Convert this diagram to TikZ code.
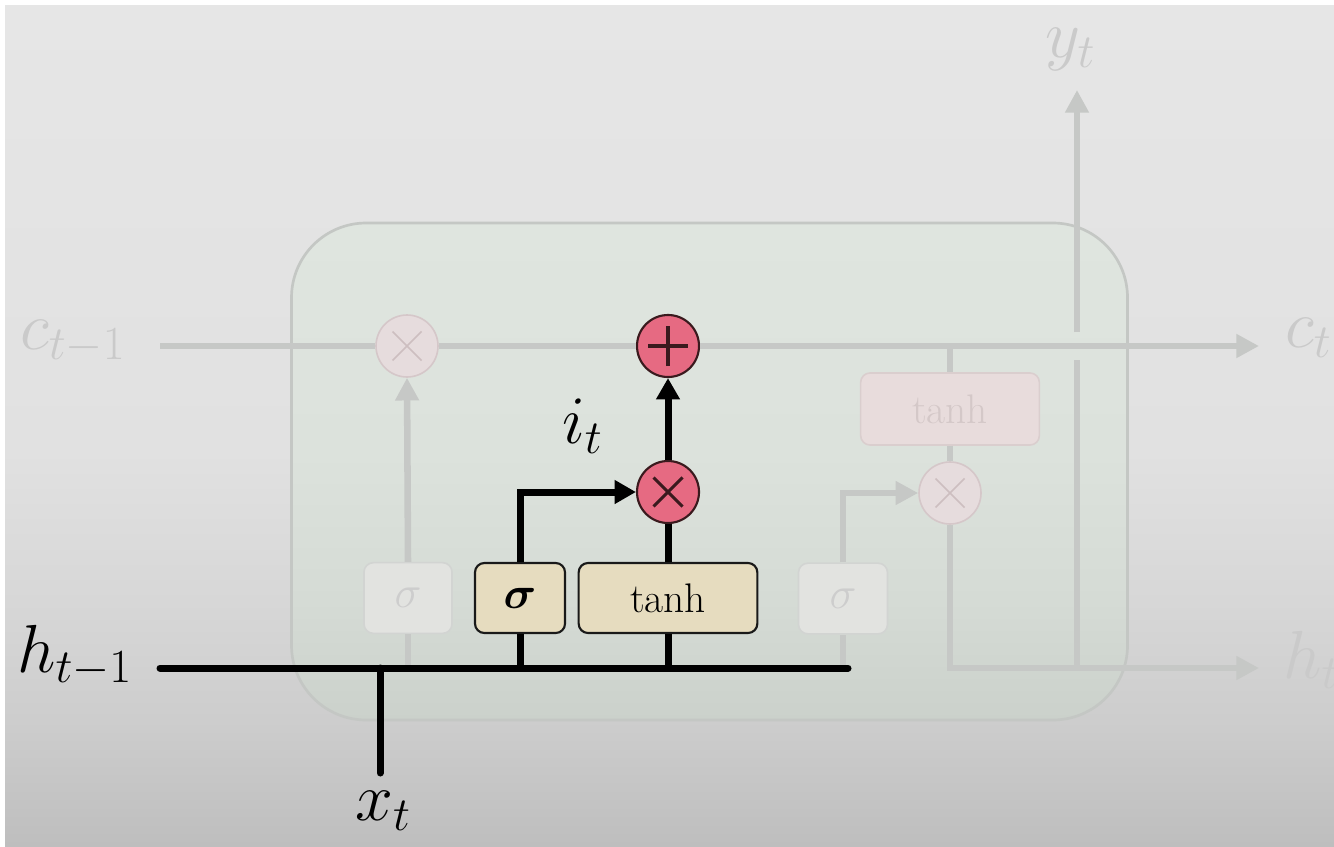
\RequirePackage{fix-cm}
\documentclass[tikz,border=0pt]{standalone}
\usepackage{amsmath}
\usepackage{bm}
\usetikzlibrary{arrows.meta}

\definecolor{bgA}{HTML}{BEBEBE}
\definecolor{bgB}{HTML}{CDCDCD}
\definecolor{bgC}{HTML}{D7D7D7}
\definecolor{bgD}{HTML}{E1E1E1}
\definecolor{bgE}{HTML}{E6E6E6}
\definecolor{cellA}{HTML}{CBD1CB}
\definecolor{cellB}{HTML}{D5DBD5}
\definecolor{cellC}{HTML}{DCE2DC}
\definecolor{cellD}{HTML}{DFE5DF}
\definecolor{cellline}{HTML}{C4C7C4}
\definecolor{fadeline}{HTML}{C6C8C6}
\definecolor{fadetext}{HTML}{CACACA}
\definecolor{pinkA}{HTML}{E66A82}
\definecolor{pinkB}{HTML}{3A1A1E}
\definecolor{fcirc}{HTML}{E6DCDD}
\definecolor{fcircb}{HTML}{D5C7C9}
\definecolor{fcross}{HTML}{CDBEC0}
\definecolor{beige}{HTML}{E6DCBF}
\definecolor{fgate}{HTML}{E2E3E0}
\definecolor{fgateb}{HTML}{D2D4D2}
\definecolor{fgatetext}{HTML}{CDCDCD}
\definecolor{ftanh}{HTML}{E8DCDC}
\definecolor{ftanhb}{HTML}{DACECE}
\definecolor{ftanhtext}{HTML}{D4C8C8}

\pgfdeclareverticalshading{bgshade}{100bp}{color(0bp)=(bgA); color(25bp)=(bgA); color(32.5bp)=(bgB); color(39.5bp)=(bgC); color(48.5bp)=(bgD); color(75bp)=(bgE); color(100bp)=(bgE)}
\pgfdeclareverticalshading{cellshade}{100bp}{color(0bp)=(cellA); color(25bp)=(cellA); color(37bp)=(cellB); color(52bp)=(cellC); color(75bp)=(cellD); color(100bp)=(cellD)}

\begin{document}
\begin{tikzpicture}[x=0.75pt,y=-0.75pt,
  fl/.style={draw=fadeline, line width=4.9pt},
  bl/.style={draw=black, line width=5.25pt},
  btip/.style={-{Triangle[length=16pt,width=17pt]}},
  ftip/.style={-{Triangle[length=17pt,width=17pt]}},
  opA/.style={circle, minimum size=46.5pt, inner sep=0pt, fill=pinkA, draw=pinkB, line width=1.6pt},
  opF/.style={circle, minimum size=46.5pt, inner sep=0pt, fill=fcirc, draw=fcircb, line width=1.2pt},
  gatefont/.style={font=\fontsize{31}{36}\selectfont},
  gateA/.style={rectangle, rounded corners=7pt, fill=beige, draw=black!90, line width=1.6pt, minimum height=52.5pt, inner sep=0pt, gatefont},
  gateF/.style={rectangle, rounded corners=7pt, fill=fgate, draw=fgateb, line width=1.2pt, minimum height=53pt, inner sep=0pt, text=fgatetext, gatefont},
  gateT/.style={rectangle, rounded corners=7pt, fill=ftanh, draw=ftanhb, line width=1.2pt, minimum height=54pt, inner sep=0pt, text=ftanhtext, gatefont},
  sig/.style={font=\fontsize{34}{40}\selectfont},
  lab/.style={inner sep=0pt, font=\fontsize{51}{60}\selectfont},
  flab/.style={lab, text=fadetext}
]
\useasboundingbox (0,0) rectangle (1334,846);
\fill[white] (0,0) rectangle (1334,846);
\shade[shading=bgshade] (5,5) rectangle (1334,846);

% cell
\node[shading=cellshade, draw=cellline, line width=2pt, rounded corners=56pt,
      minimum width=627pt, minimum height=372.75pt] (cell) at (709.5,471.5) {};

% coordinates
\coordinate (cin) at (160,346);
\coordinate (cout) at (1259,346);
\coordinate (hin) at (160,668);
\coordinate (hend) at (848,668);
\coordinate (hout) at (1259,668);
\coordinate (xbot) at (380,773);
\coordinate (ybot) at (1077,668);
\coordinate (ygapl) at (1077,360);
\coordinate (ygaph) at (1077,332);
\coordinate (ytop) at (1077,90);

% operators
\node[opF] (fxL) at (407,346) {};
\node[opA] (plus) at (668,346) {};
\node[opA] (ax) at (668,492) {};
\node[opF] (fxR) at (950,493) {};

% gates
\node[gateF, sig, minimum width=66pt] (sigL) at (408,598) {$\sigma$};
\node[gateA, sig, minimum width=67.5pt] (sigA) at (520,598) {$\bm{\sigma}$};
\node[gateA, minimum width=134pt] (tanhA) at (668,598) {tanh};
\node[gateF, sig, minimum width=66.75pt] (sigR) at (843,598.5) {$\sigma$};
\node[gateT, minimum width=134pt] (tanhR) at (950,409) {tanh};

% faded connectors
\draw[fl] (cin) -- (fxL.west);
\draw[fl] (fxL.east) -- (plus.west);
\draw[fl, ftip] (plus.east) -- (cout);
\draw[fl] (tanhR.north |- cin) -- (tanhR.north);
\draw[fl] (tanhR.south) -- (fxR.north);
\draw[fl, ftip] (fxR.south) -- (fxR.south |- hout) -- (hout);
\draw[fl] (sigL.south |- hin) -- (sigL.south);
\draw[fl, ftip] (sigL.north) -- (fxL.south);
\draw[fl] (sigR.south |- hin) -- (sigR.south);
\draw[fl, ftip] (sigR.north) -- (sigR.north |- fxR.west) -- (fxR.west);
\draw[fl] (ybot) -- (ygapl);
\draw[fl, ftip] (ygaph) -- (ytop);

% crosses in faded operators
\draw[fcross, line width=1.2pt] ([shift={(-14.5,-14.5)}]fxL.center) -- ([shift={(14.5,14.5)}]fxL.center)
  ([shift={(-14.5,14.5)}]fxL.center) -- ([shift={(14.5,-14.5)}]fxL.center);
\draw[fcross, line width=1.2pt] ([shift={(-14.5,-14.5)}]fxR.center) -- ([shift={(14.5,14.5)}]fxR.center)
  ([shift={(-14.5,14.5)}]fxR.center) -- ([shift={(14.5,-14.5)}]fxR.center);

% active connectors
\draw[bl, line cap=round] (hin) -- (hend);
\draw[bl, line cap=round] (xbot) -- (xbot |- hin);
\draw[bl] (sigA.south) -- (sigA.south |- hin);
\draw[bl] (tanhA.south) -- (tanhA.south |- hin);
\draw[bl, btip] (sigA.north) -- (sigA.north |- ax.west) -- (ax.west);
\draw[bl] (tanhA.north) -- (ax.south);
\draw[bl, btip] (ax.north) -- (plus.south);

% symbols in active operators
\draw[pinkB, line width=2.3pt] ([xshift=-15pt]plus.center) -- ([xshift=15pt]plus.center)
  ([yshift=-15pt]plus.center) -- ([yshift=15pt]plus.center);
\draw[pinkB, line width=2.3pt] ([shift={(-14.5,-14.5)}]ax.center) -- ([shift={(14.5,14.5)}]ax.center)
  ([shift={(-14.5,14.5)}]ax.center) -- ([shift={(14.5,-14.5)}]ax.center);

% labels
\node[flab, anchor=base west] (lcin) at (20,349) {$c_{t-1}$};
\node[flab, anchor=base west] (lcout) at (1285,347) {$c_t$};
\node[lab, anchor=base west] (lhin) at (17,672) {$h_{t-1}$};
\node[flab, anchor=base west] (lhout) at (1283,678) {$h_t$};
\node[lab, anchor=base west] (lx) at (355,820) {$x_t$};
\node[flab, anchor=base west] (ly) at (1045,57) {$y_t$};
\node[lab, anchor=base west] (li) at (562,443) {$i_t$};
\end{tikzpicture}
\end{document}
